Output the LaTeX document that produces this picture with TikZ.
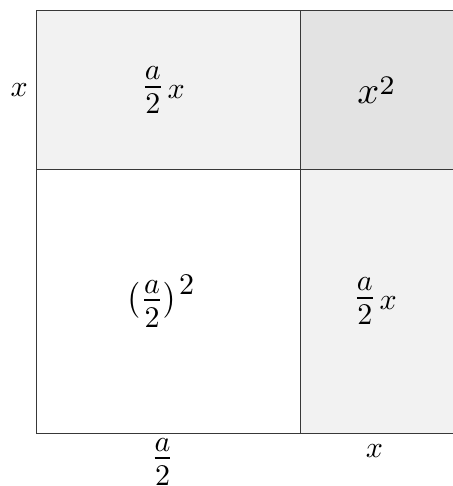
\documentclass[tikz,border=0pt]{standalone}
\usepackage{amsmath}
\newcommand\hfr[2]{\genfrac{}{}{0.6pt}{1}{\textstyle #1\rule[-0.14em]{0pt}{0pt}}{\textstyle\rule{0pt}{0.814em}#2}}
\begin{document}
\begin{tikzpicture}[x=0.3333pt,y=-0.3333pt,
  gridline/.style={draw=black!78,line width=0.33pt},
  lab/.style={inner sep=0pt}]
\useasboundingbox (0,0) rectangle (453,486);
\clip (0,0) rectangle (453,486);
\fill[black!5] (36.5,10.5) rectangle (300.5,169.5);
\fill[black!11] (300.5,10.5) rectangle (460,169.5);
\fill[black!5] (300.5,169.5) rectangle (460,433.5);
\draw[gridline] (460,10.5) -- (36.5,10.5) -- (36.5,433.5) -- (460,433.5);
\draw[gridline] (300.5,10.5) -- (300.5,433.5);
\draw[gridline] (36.5,169.5) -- (460,169.5);
\node[lab] (tl) at (163,90.5) {$\hfr{a}{2}\mkern2mu\raisebox{-1.4pt}{$x$}$};
\node[lab,scale=1.28] (tr) at (376,90.2) {$x\raisebox{2.3pt}{$\scriptstyle 2$}$};
\node[lab] (bl) at (160.5,301) {$\bigl(\hfr{a}{2}\bigr)\mkern1mu\raisebox{4.4pt}{$2$}$};
\node[lab] (br) at (375,301.5) {$\hfr{a}{2}\mkern2mu\raisebox{-1.4pt}{$x$}$};
\node[lab] (lx) at (19.3,89.7) {$x$};
\node[lab] (ba) at (162.5,462) {$\hfr{a}{2}$};
\node[lab] (bx) at (374.5,451.5) {$x$};
\end{tikzpicture}
\end{document}
